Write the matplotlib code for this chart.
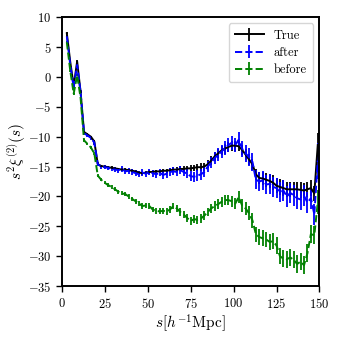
import numpy as np
import matplotlib
matplotlib.use("Agg")
import matplotlib.pyplot as plt

# LaTeX-like look without a LaTeX install
plt.rcParams['font.family'] = 'serif'
plt.rcParams['font.serif'] = ['cmr10']
plt.rcParams['mathtext.fontset'] = 'cm'
plt.rcParams['axes.formatter.use_mathtext'] = True

# Data
s = np.arange(3, 150, 2)

xi_true = [7.3, 2.5, -1.5, 2.6, -2.5, -9.2, -9.6, -10.0, -10.8, -14.6,
           -14.9, -15.0, -15.1, -15.2, -15.3, -15.4, -15.5, -15.5, -15.6, -15.7,
           -15.8, -16.0, -16.1, -16.0, -15.9, -15.9, -15.8, -15.8, -15.7, -15.7,
           -15.6, -15.5, -15.5, -15.4, -15.4, -15.3, -15.3, -15.2, -15.1, -15.1,
           -15.0, -14.6, -14.0, -13.3, -12.8, -12.3, -12.0, -11.7, -11.5, -11.5,
           -11.6, -12.2, -13.0, -13.8, -14.6, -16.3, -16.9, -17.0, -17.2, -17.4,
           -17.7, -18.2, -18.4, -18.6, -18.8, -18.8, -18.8, -18.8, -18.9, -19.0,
           -18.8, -18.6, -19.5, -11.4]

xi_after = [6.8, 2.0, -1.8, 2.0, -2.5, -9.4, -9.8, -10.2, -11.0, -14.6,
            -15.0, -15.1, -15.2, -15.4, -15.5, -15.6, -15.4, -15.8, -15.7, -15.9,
            -16.1, -16.3, -16.0, -16.2, -15.9, -16.1, -16.3, -16.0, -16.4, -16.2,
            -15.9, -15.8, -15.9, -15.6, -15.9, -16.2, -16.6, -16.7, -16.5, -16.3,
            -15.9, -15.0, -14.3, -13.6, -13.0, -12.5, -11.9, -11.4, -11.0, -11.4,
            -10.5, -12.0, -12.8, -13.4, -14.2, -17.2, -17.5, -17.3, -18.0, -17.9,
            -18.4, -18.6, -19.3, -19.0, -20.0, -19.4, -19.8, -20.3, -20.5, -19.9,
            -21.0, -20.3, -23.0, -14.0]

xi_before = [5.8, 1.0, -2.8, 0.3, -3.5, -10.6, -11.2, -11.8, -12.8, -16.5,
             -17.2, -17.7, -18.1, -18.4, -18.8, -19.2, -19.5, -19.6, -20.0, -20.4,
             -20.8, -21.2, -21.6, -21.5, -21.6, -22.2, -22.4, -22.5, -22.4, -22.5,
             -22.2, -21.6, -22.0, -22.6, -23.0, -23.6, -24.1, -23.8, -23.9, -23.7,
             -23.2, -22.6, -22.0, -21.6, -21.3, -20.9, -20.6, -20.6, -20.8, -21.2,
             -20.1, -21.5, -22.0, -22.8, -24.0, -26.3, -26.8, -27.0, -27.2, -27.6,
             -27.5, -28.2, -30.0, -30.4, -30.5, -30.2, -30.6, -31.3, -30.9, -31.5,
             -29.5, -26.3, -26.5, -21.0]

# error bar half-lengths, growing with s
err_true = np.interp(s, [3, 60, 75, 90, 110, 125, 147, 149], [0.15, 0.3, 0.5, 0.8, 0.9, 1.3, 1.3, 2.0])
err_after = np.interp(s, [3, 30, 70, 100, 115, 147, 149], [0.2, 0.4, 0.7, 1.2, 1.6, 1.8, 3.0])
err_before = np.interp(s, [3, 30, 70, 100, 115, 147, 149], [0.15, 0.3, 0.6, 0.9, 1.3, 1.5, 2.0])

fig = plt.figure(figsize=(3.37, 3.37), dpi=100)
ax = fig.add_axes([0.183, 0.151, 0.765, 0.798])

ax.errorbar(s, xi_true, yerr=err_true, color='k', ls='-', lw=1.4, elinewidth=1.3, label='True')
ax.errorbar(s, xi_after, yerr=err_after, color='b', ls='--', lw=1.4, elinewidth=1.3, label='after')
ax.errorbar(s, xi_before, yerr=err_before, color='g', ls='--', lw=1.4, elinewidth=1.3, label='before')

ax.set_xlim(0, 150)
ax.set_ylim(-35, 10)
ax.set_xticks([0, 25, 50, 75, 100, 125, 150])
ax.set_yticks(np.arange(-35, 11, 5))
ax.tick_params(labelsize=9, direction='out', length=4, width=1)
for sp in ax.spines.values():
    sp.set_linewidth(1.4)

ax.set_xlabel(r'$s[h^{-1}{\rm Mpc}]$', fontsize=11, labelpad=1)
ax.set_ylabel(r'$s^2\xi^{(2)}(s)$', fontsize=11, labelpad=0)
ax.legend(loc='upper right', fontsize=9, handlelength=2.3, borderpad=0.5, labelspacing=0.4)

plt.savefig('out.png', dpi=100)
